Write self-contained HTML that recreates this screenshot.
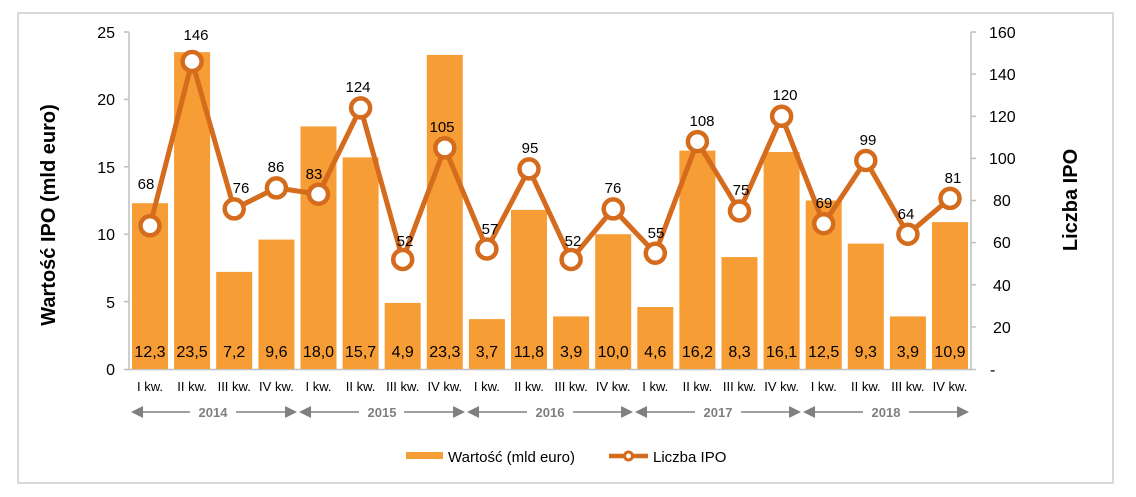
<!DOCTYPE html>
<html><head><meta charset="utf-8"><style>
html,body{margin:0;padding:0;background:#fff;}
svg{display:block;font-family:"Liberation Sans",Arial,sans-serif;}
</style></head><body>
<svg width="1136" height="497" viewBox="0 0 1136 497" xmlns="http://www.w3.org/2000/svg">
<rect x="18" y="13" width="1095" height="470" fill="#fff" stroke="#d9d9d9" stroke-width="2"/>
<line x1="129" y1="32" x2="129" y2="370" stroke="#bfbfbf" stroke-width="1.5"/>
<line x1="971" y1="32" x2="971" y2="370" stroke="#bfbfbf" stroke-width="1.5"/>
<line x1="124" y1="369.5" x2="976" y2="369.5" stroke="#bfbfbf" stroke-width="1.5"/>
<g stroke="#bfbfbf" stroke-width="1.5">
<line x1="124" y1="32" x2="129" y2="32"/><line x1="124" y1="99.4" x2="129" y2="99.4"/><line x1="124" y1="166.8" x2="129" y2="166.8"/><line x1="124" y1="234.2" x2="129" y2="234.2"/><line x1="124" y1="301.6" x2="129" y2="301.6"/>
<line x1="971" y1="32" x2="976" y2="32"/><line x1="971" y1="74.1" x2="976" y2="74.1"/><line x1="971" y1="116.3" x2="976" y2="116.3"/><line x1="971" y1="158.4" x2="976" y2="158.4"/><line x1="971" y1="200.5" x2="976" y2="200.5"/><line x1="971" y1="242.6" x2="976" y2="242.6"/><line x1="971" y1="284.8" x2="976" y2="284.8"/><line x1="971" y1="326.9" x2="976" y2="326.9"/>
</g>
<g font-size="16" fill="#000" text-anchor="end">
<text x="115" y="38">25</text><text x="115" y="105">20</text><text x="115" y="173">15</text><text x="115" y="240">10</text><text x="115" y="308">5</text><text x="115" y="375">0</text>
</g>
<g font-size="16" fill="#000" text-anchor="start">
<text x="989" y="38">160</text><text x="989" y="80">140</text><text x="989" y="122">120</text><text x="989" y="164">100</text><text x="993" y="206">80</text><text x="993" y="248">60</text><text x="993" y="291">40</text><text x="993" y="333">20</text><text x="990" y="375">-</text>
</g>
<text transform="translate(55,215) rotate(-90)" font-size="20" font-weight="bold" text-anchor="middle">Wartość IPO (mld euro)</text>
<text transform="translate(1077,200) rotate(-90)" font-size="20" font-weight="bold" text-anchor="middle">Liczba IPO</text>
<g fill="#f79d35">
<rect x="132" y="203.2" width="36" height="165.8"/>
<rect x="174.1" y="52.2" width="36" height="316.8"/>
<rect x="216.2" y="271.9" width="36" height="97.1"/>
<rect x="258.4" y="239.6" width="36" height="129.4"/>
<rect x="300.5" y="126.4" width="36" height="242.6"/>
<rect x="342.6" y="157.4" width="36" height="211.6"/>
<rect x="384.7" y="302.9" width="36" height="66.1"/>
<rect x="426.8" y="54.9" width="36" height="314.1"/>
<rect x="468.9" y="319.1" width="36" height="49.9"/>
<rect x="511" y="209.9" width="36" height="159.1"/>
<rect x="553.1" y="316.4" width="36" height="52.6"/>
<rect x="595.2" y="234.2" width="36" height="134.8"/>
<rect x="637.3" y="307" width="36" height="62"/>
<rect x="679.4" y="150.6" width="36" height="218.4"/>
<rect x="721.5" y="257.1" width="36" height="111.9"/>
<rect x="763.6" y="152" width="36" height="217"/>
<rect x="805.7" y="200.5" width="36" height="168.5"/>
<rect x="847.8" y="243.6" width="36" height="125.4"/>
<rect x="889.9" y="316.4" width="36" height="52.6"/>
<rect x="932" y="222.1" width="36" height="146.9"/>
</g>
<g font-size="16" fill="#000" text-anchor="middle">
<text x="150" y="357">12,3</text><text x="192.1" y="357">23,5</text><text x="234.2" y="357">7,2</text><text x="276.4" y="357">9,6</text><text x="318.5" y="357">18,0</text><text x="360.6" y="357">15,7</text><text x="402.7" y="357">4,9</text><text x="444.8" y="357">23,3</text><text x="486.9" y="357">3,7</text><text x="529" y="357">11,8</text><text x="571.1" y="357">3,9</text><text x="613.2" y="357">10,0</text><text x="655.3" y="357">4,6</text><text x="697.4" y="357">16,2</text><text x="739.5" y="357">8,3</text><text x="781.6" y="357">16,1</text><text x="823.7" y="357">12,5</text><text x="865.8" y="357">9,3</text><text x="907.9" y="357">3,9</text><text x="950" y="357">10,9</text>
</g>
<polyline fill="none" stroke="#d46b1d" stroke-width="5" stroke-linejoin="round" points="150,225.8 192.1,61.5 234.2,208.9 276.4,187.9 318.5,194.2 360.6,107.9 402.7,259.5 444.8,147.9 486.9,249 529,168.9 571.1,259.5 613.2,208.9 655.3,253.2 697.4,141.6 739.5,211 781.6,116.3 823.7,223.7 865.8,160.5 907.9,234.2 950,198.4"/>
<g fill="#fff" stroke="#d46b1d" stroke-width="4.5">
<circle cx="150" cy="225.8" r="9.5"/><circle cx="192.1" cy="61.5" r="9.5"/><circle cx="234.2" cy="208.9" r="9.5"/><circle cx="276.4" cy="187.9" r="9.5"/><circle cx="318.5" cy="194.2" r="9.5"/><circle cx="360.6" cy="107.9" r="9.5"/><circle cx="402.7" cy="259.5" r="9.5"/><circle cx="444.8" cy="147.9" r="9.5"/><circle cx="486.9" cy="249" r="9.5"/><circle cx="529" cy="168.9" r="9.5"/><circle cx="571.1" cy="259.5" r="9.5"/><circle cx="613.2" cy="208.9" r="9.5"/><circle cx="655.3" cy="253.2" r="9.5"/><circle cx="697.4" cy="141.6" r="9.5"/><circle cx="739.5" cy="211" r="9.5"/><circle cx="781.6" cy="116.3" r="9.5"/><circle cx="823.7" cy="223.7" r="9.5"/><circle cx="865.8" cy="160.5" r="9.5"/><circle cx="907.9" cy="234.2" r="9.5"/><circle cx="950" cy="198.4" r="9.5"/>
</g>
<g font-size="15" fill="#000" text-anchor="middle">
<text x="146" y="189">68</text><text x="196" y="40">146</text><text x="241" y="193">76</text><text x="276" y="172">86</text><text x="314" y="179">83</text><text x="358" y="92">124</text><text x="405" y="246">52</text><text x="442" y="132">105</text><text x="490" y="234">57</text><text x="530" y="153">95</text><text x="573" y="246">52</text><text x="613" y="193">76</text><text x="656" y="238">55</text><text x="702" y="126">108</text><text x="741" y="195">75</text><text x="785" y="100">120</text><text x="824" y="208">69</text><text x="868" y="145">99</text><text x="906" y="219">64</text><text x="953" y="183">81</text>
</g>
<g font-size="13" fill="#000" text-anchor="middle">
<text x="150" y="391">I kw.</text><text x="192.1" y="391">II kw.</text><text x="234.2" y="391">III kw.</text><text x="276.4" y="391">IV kw.</text>
<text x="318.5" y="391">I kw.</text><text x="360.6" y="391">II kw.</text><text x="402.7" y="391">III kw.</text><text x="444.8" y="391">IV kw.</text>
<text x="486.9" y="391">I kw.</text><text x="529" y="391">II kw.</text><text x="571.1" y="391">III kw.</text><text x="613.2" y="391">IV kw.</text>
<text x="655.3" y="391">I kw.</text><text x="697.4" y="391">II kw.</text><text x="739.5" y="391">III kw.</text><text x="781.6" y="391">IV kw.</text>
<text x="823.7" y="391">I kw.</text><text x="865.8" y="391">II kw.</text><text x="907.9" y="391">III kw.</text><text x="950" y="391">IV kw.</text>
</g>
<g stroke="#808080" stroke-width="1.5">
<line x1="140" y1="412" x2="190" y2="412"/><line x1="236" y1="412" x2="287" y2="412"/>
<line x1="309" y1="412" x2="359" y2="412"/><line x1="404" y1="412" x2="455" y2="412"/>
<line x1="477" y1="412" x2="527" y2="412"/><line x1="573" y1="412" x2="623" y2="412"/>
<line x1="645" y1="412" x2="695" y2="412"/><line x1="741" y1="412" x2="791" y2="412"/>
<line x1="813" y1="412" x2="863" y2="412"/><line x1="909" y1="412" x2="959" y2="412"/>
</g>
<g fill="#808080">
<polygon points="131,412 143,406 143,418"/><polygon points="297,412 285,406 285,418"/>
<polygon points="299,412 311,406 311,418"/><polygon points="465,412 453,406 453,418"/>
<polygon points="467,412 479,406 479,418"/><polygon points="633,412 621,406 621,418"/>
<polygon points="635,412 647,406 647,418"/><polygon points="801,412 789,406 789,418"/>
<polygon points="803,412 815,406 815,418"/><polygon points="969,412 957,406 957,418"/>
</g>
<g font-size="13" font-weight="bold" fill="#808080" text-anchor="middle">
<text x="213" y="417">2014</text><text x="382" y="417">2015</text><text x="550" y="417">2016</text><text x="718" y="417">2017</text><text x="886" y="417">2018</text>
</g>
<rect x="406" y="452" width="37" height="7" fill="#f79d35"/>
<text x="448" y="462" font-size="15" fill="#000">Wartość (mld euro)</text>
<line x1="609" y1="456" x2="648" y2="456" stroke="#d46b1d" stroke-width="4.5"/>
<circle cx="628.5" cy="456" r="4" fill="#fff" stroke="#d46b1d" stroke-width="3"/>
<text x="653" y="462" font-size="15" fill="#000">Liczba IPO</text>
</svg>
</body></html>
